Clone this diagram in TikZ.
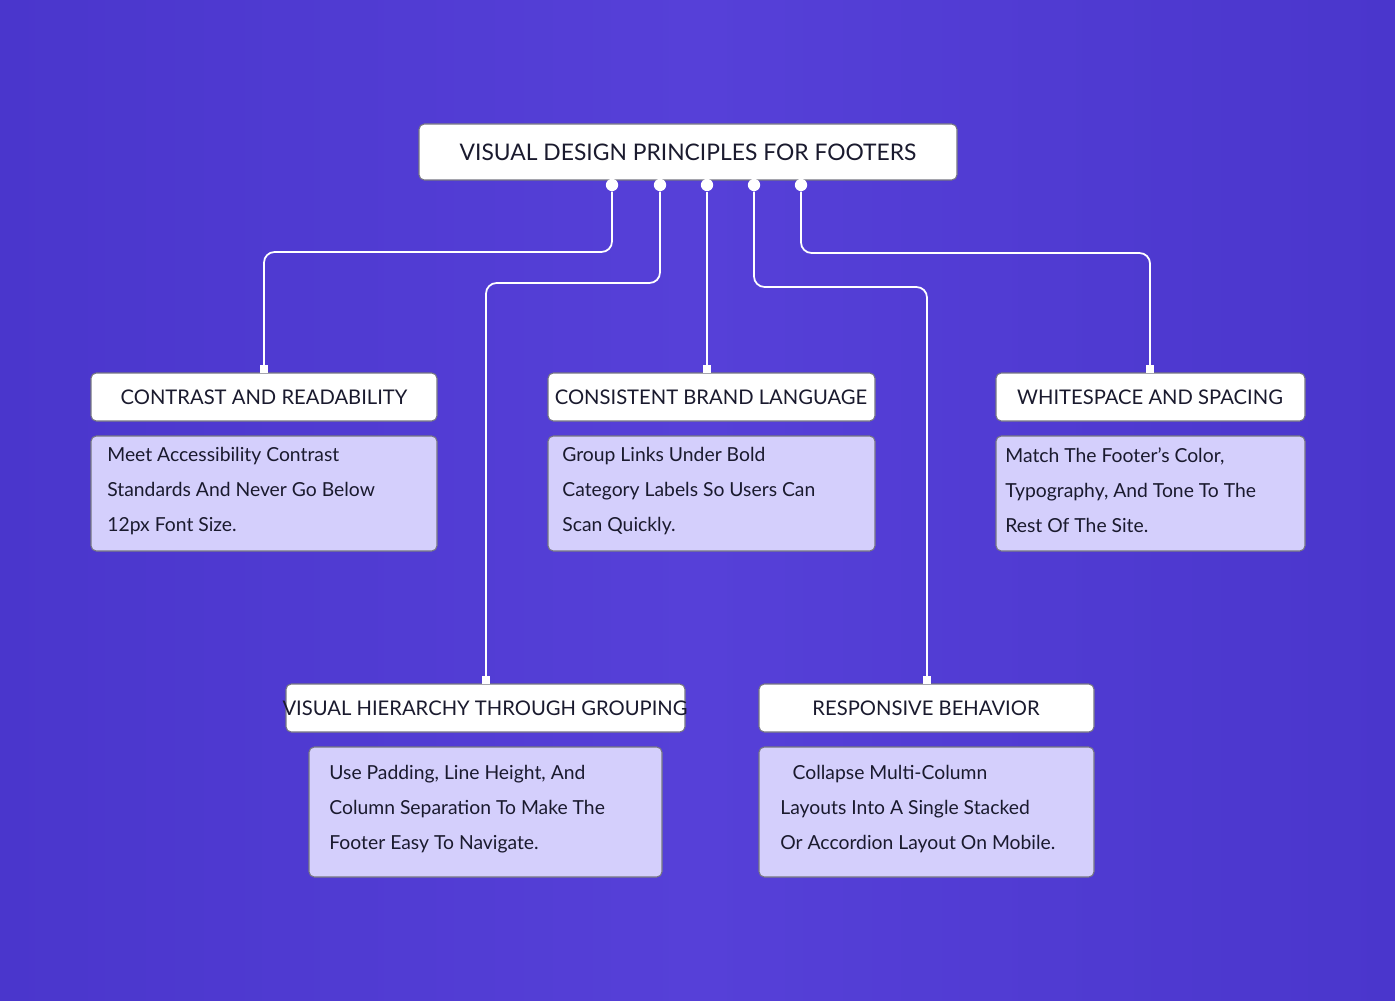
\documentclass[tikz,border=0pt]{standalone}
\usepackage{fontspec}
\setmainfont{Lato}
\definecolor{bgA}{HTML}{4A36CC}
\definecolor{bgB}{HTML}{5640D8}
\definecolor{body}{HTML}{D4CFFC}
\definecolor{txt}{HTML}{1A1A2E}
\begin{document}
\begin{tikzpicture}[x=0.02cm,y=-0.02cm,
  hdr/.style={draw=txt!60,line width=0.6pt,fill=white,rounded corners=3pt},
  bdy/.style={draw=txt!60,line width=0.6pt,fill=body,rounded corners=3pt},
  ht/.style={font=\fontsize{11.5}{14}\selectfont,text=txt},
  bt/.style={font=\fontsize{11}{20}\selectfont,text=txt,align=left,anchor=north west,inner sep=0pt},
  wire/.style={draw=white,line width=1pt,rounded corners=6pt},
  dot/.style={circle,fill=white,inner sep=0pt,minimum size=7pt},
  sq/.style={fill=white,inner sep=0pt,minimum size=5pt}]
\fill[left color=bgA,right color=bgA,middle color=bgB] (0,0) rectangle (1395,1000);
\useasboundingbox (0,0) rectangle (1395,1000);
% title
\draw[hdr] (419,124) rectangle (957,180);
\node[font=\fontsize{13}{15}\selectfont,text=txt] (title) at (688,152) {VISUAL DESIGN PRINCIPLES FOR FOOTERS};
% dots
\foreach \n/\x in {d1/612,d2/660,d3/707,d4/754,d5/801}
  \node[dot] (\n) at (\x,185) {};
% headers
\draw[hdr] (91,373) rectangle (437,421);
\node[ht] (h1) at (264,397) {CONTRAST AND READABILITY};
\draw[hdr] (548,373) rectangle (875,421);
\node[ht] (h3) at (711,397) {CONSISTENT BRAND LANGUAGE};
\draw[hdr] (996,373) rectangle (1305,421);
\node[ht] (h5) at (1150,397) {WHITESPACE AND SPACING};
\draw[hdr] (286,684) rectangle (685,732);
\node[ht] (h2) at (485,708) {VISUAL HIERARCHY THROUGH GROUPING};
\draw[hdr] (759,684) rectangle (1094,732);
\node[ht] (h4) at (926,708) {RESPONSIVE BEHAVIOR};
% bodies
\draw[bdy] (91,436) rectangle (437,551);
\node[bt] (b1) at (107,447) {Meet Accessibility Contrast\\Standards And Never Go Below\\12px Font Size.};
\draw[bdy] (548,436) rectangle (875,551);
\node[bt] (b3) at (562,447) {Group Links Under Bold\\Category Labels So Users Can\\Scan Quickly.};
\draw[bdy] (996,436) rectangle (1305,551);
\node[bt] (b5) at (1005,447) {Match The Footer’s Color,\\Typography, And Tone To The\\Rest Of The Site.};
\draw[bdy] (309,747) rectangle (662,877);
\node[bt] (b2) at (329,765) {Use Padding, Line Height, And\\Column Separation To Make The\\Footer Easy To Navigate.};
\draw[bdy] (759,747) rectangle (1094,877);
\node[bt] (b4) at (780,765) {\hspace*{7pt}Collapse Multi-Column\\Layouts Into A Single Stacked\\Or Accordion Layout On Mobile.};
% end markers
\coordinate (e1) at (264,369);
\coordinate (e2) at (486,680);
\coordinate (e3) at (707,369);
\coordinate (e4) at (927,680);
\coordinate (e5) at (1150,369);
\foreach \e in {e1,e2,e3,e4,e5} \node[sq] at (\e) {};
% wires
\draw[wire] (d1) -- (612,252) -- (264,252) -- (e1);
\draw[wire] (d2) -- (660,283) -- (486,283) -- (e2);
\draw[wire] (d3) -- (e3);
\draw[wire] (d4) -- (754,287) -- (927,287) -- (e4);
\draw[wire] (d5) -- (801,253) -- (1150,253) -- (e5);
\end{tikzpicture}
\end{document}
